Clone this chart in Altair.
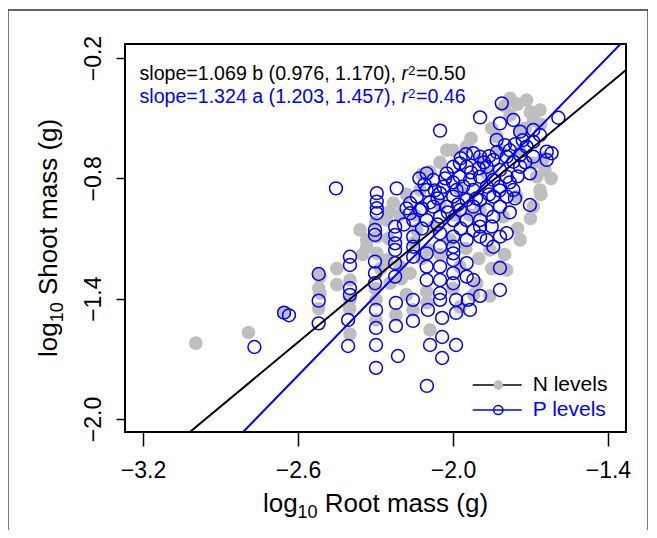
import altair as alt
import pandas as pd

# ---------------- data (log10 root mass, log10 shoot mass) ----------------
N_LEVELS = [
    (-2.996, -1.622), (-2.792, -1.569), (-2.654, -1.470), (-2.520, -1.277), (-2.520, -1.348),
    (-1.779, -0.401), (-1.715, -0.409), (-1.663, -0.459), (-1.689, -0.509), (-2.024, -0.659),
    (-2.089, -0.767), (-1.831, -0.592), (-1.689, -0.941), (-1.676, -0.792), (-1.689, -0.725),
    (-1.753, -0.891), (-1.805, -0.991), (-1.818, -1.240), (-1.792, -1.257), (-1.908, -1.323),
    (-1.973, -1.240), (-2.231, -0.924), (-2.257, -1.008), (-2.334, -1.107), (-2.334, -1.141),
    (-2.295, -1.174), (-2.257, -1.207), (-2.205, -1.240), (-2.166, -1.273), (-2.244, -1.323),
    (-2.515, -1.290), (-2.515, -1.373), (-2.399, -1.307), (-2.295, -1.091), (-2.140, -1.057),
    (-2.076, -1.041), (-1.869, -0.775), (-1.947, -0.642), (-1.740, -0.667), (-1.895, -0.708),
    (-1.818, -0.659), (-1.740, -0.559), (-1.779, -0.484), (-1.973, -0.858), (-2.050, -0.933),
    (-1.934, -0.983), (-2.128, -0.858), (-2.205, -0.983), (-2.011, -1.107), (-2.089, -1.157),
    (-1.857, -1.157), (-1.740, -1.107), (-1.663, -0.858), (-2.399, -1.406), (-2.399, -1.576),
    (-2.298, -1.406), (-2.298, -1.506), (-2.221, -1.481), (-2.155, -1.456), (-2.089, -1.556),
    (-1.973, -1.441), (-1.857, -1.386), (-1.644, -0.758), (-1.895, -0.958), (-1.992, -0.983),
    (-2.147, -0.983), (-2.360, -1.057), (-2.102, -1.366),
    (-1.800, -0.440), (-1.750, -0.430), (-1.700, -0.470), (-1.660, -0.530), (-1.720, -0.550),
    (-1.850, -0.550), (-1.930, -0.600), (-2.000, -0.660), (-2.050, -0.720), (-2.120, -0.780),
    (-2.180, -0.880), (-2.250, -0.970), (-2.300, -1.020), (-2.350, -1.180), (-2.280, -1.250),
    (-2.200, -1.300), (-2.120, -1.200), (-2.050, -1.180), (-1.950, -1.150), (-1.900, -1.200),
    (-1.850, -1.250), (-1.800, -1.180), (-1.750, -1.050), (-1.700, -1.000), (-1.660, -0.880),
    (-1.620, -0.800), (-1.650, -0.700), (-2.450, -1.250), (-2.450, -1.330), (-2.520, -1.450),
    (-2.400, -1.450), (-2.300, -1.350), (-2.180, -1.380), (-2.100, -1.420), (-2.000, -1.350),
    (-1.920, -1.380), (-2.250, -1.100), (-2.150, -1.120),
]

P_LEVELS = [
    (-2.769, -1.641), (-2.654, -1.470), (-2.635, -1.483), (-2.520, -1.277), (-2.520, -1.410),
    (-2.520, -1.523), (-1.811, -0.426), (-1.895, -0.496), (-2.050, -0.562), (-2.453, -0.850),
    (-1.592, -0.498), (-1.766, -0.509), (-1.818, -0.526), (-1.740, -0.567), (-1.831, -0.609),
    (-1.799, -0.634), (-1.689, -0.559), (-1.663, -0.584), (-1.689, -0.617), (-1.715, -0.642),
    (-1.637, -0.667), (-1.618, -0.675), (-1.637, -0.708), (-1.689, -0.692), (-1.740, -0.684),
    (-1.766, -0.717), (-1.792, -0.692), (-1.844, -0.708), (-1.895, -0.692), (-1.921, -0.675),
    (-1.973, -0.725), (-1.999, -0.742), (-1.947, -0.742), (-1.869, -0.742), (-1.818, -0.758),
    (-1.740, -0.742), (-1.702, -0.775), (-1.792, -0.792), (-1.844, -0.808), (-1.895, -0.792),
    (-1.934, -0.808), (-1.973, -0.792), (-2.024, -0.775), (-2.102, -0.775), (-2.076, -0.808),
    (-2.037, -0.842), (-1.986, -0.858), (-1.921, -0.858), (-1.869, -0.842), (-1.818, -0.842),
    (-1.766, -0.858), (-1.792, -0.891), (-1.844, -0.891), (-1.895, -0.908), (-1.947, -0.908),
    (-1.999, -0.891), (-2.050, -0.874), (-2.102, -0.858), (-2.140, -0.891), (-2.166, -0.924),
    (-2.166, -0.974), (-2.128, -0.958), (-2.076, -0.941), (-2.024, -0.941), (-1.973, -0.958),
    (-1.921, -0.941), (-1.869, -0.958), (-1.818, -0.941), (-1.702, -0.933), (-2.154, -1.008),
    (-2.102, -1.008), (-2.050, -0.991), (-1.999, -1.008), (-1.947, -1.008), (-1.895, -1.008),
    (-1.844, -0.991), (-2.295, -0.874), (-2.295, -0.916), (-2.295, -0.949), (-2.295, -0.974),
    (-2.218, -0.850), (-2.302, -1.057), (-2.302, -1.082), (-2.224, -1.041), (-2.224, -1.082),
    (-2.224, -1.124), (-2.224, -1.157), (-2.224, -1.223), (-2.224, -1.290), (-2.302, -1.215),
    (-2.302, -1.273), (-2.302, -1.323), (-2.399, -1.191), (-2.399, -1.232), (-2.399, -1.348),
    (-2.399, -1.381), (-2.154, -1.091), (-2.154, -1.141), (-2.154, -1.191), (-2.102, -1.174),
    (-2.102, -1.240), (-2.102, -1.307), (-2.050, -1.074), (-2.050, -1.141), (-2.050, -1.240),
    (-2.050, -1.307), (-2.050, -1.373), (-1.999, -1.091), (-1.999, -1.141), (-1.999, -1.174),
    (-1.999, -1.207), (-1.999, -1.273), (-1.999, -1.323), (-1.947, -1.107), (-1.947, -1.223),
    (-1.947, -1.290), (-1.921, -1.307), (-1.895, -1.041), (-1.895, -1.091), (-1.869, -1.107),
    (-1.844, -1.141), (-1.792, -1.074), (-1.818, -1.091), (-2.406, -1.506), (-2.406, -1.636),
    (-2.298, -1.456), (-2.298, -1.546), (-2.298, -1.631), (-2.298, -1.745), (-2.221, -1.421),
    (-2.221, -1.536), (-2.213, -1.686), (-2.155, -1.406), (-2.155, -1.511), (-2.097, -1.456),
    (-2.089, -1.631), (-2.101, -1.835), (-2.050, -1.406), (-2.042, -1.496), (-2.042, -1.591),
    (-2.042, -1.696), (-1.988, -1.406), (-1.988, -1.471), (-1.988, -1.631), (-1.942, -1.406),
    (-1.934, -1.456), (-1.895, -1.386), (-1.818, -1.247), (-1.818, -1.357),
    (-2.130, -0.800), (-2.110, -0.830), (-2.070, -0.860), (-2.030, -0.800), (-2.000, -0.820),
    (-1.960, -0.840), (-1.930, -0.770), (-1.900, -0.750), (-1.880, -0.720), (-1.860, -0.690),
    (-1.830, -0.670), (-1.780, -0.660), (-1.760, -0.630), (-1.730, -0.610), (-1.970, -0.700),
    (-1.950, -0.680), (-2.060, -0.900), (-2.090, -0.920), (-2.120, -0.950), (-2.020, -0.970),
    (-1.980, -0.930), (-1.910, -0.900), (-1.860, -0.880), (-1.820, -0.860), (-1.780, -0.820),
    (-1.750, -0.790), (-1.720, -0.720), (-2.180, -0.950), (-2.190, -1.030), (-2.120, -1.050),
    (-2.060, -1.030), (-1.970, -1.050), (-1.920, -1.060), (-1.850, -1.040), (-1.780, -0.970),
    (-1.760, -0.900),
]

X_TICKS = [-3.2, -2.6, -2.0, -1.4]
Y_TICKS = [-2.0, -1.4, -0.8, -0.2]
X_DOMAIN = [-3.27, -1.33]
Y_DOMAIN = [-2.065, -0.13]

FIT_N = {"intercept": 1.162, "slope": 1.069}
FIT_P = {"intercept": 1.659, "slope": 1.324}

ANN_N = ["slope=1.069 b (0.976, 1.170),", "r", "2", "=0.50"]
ANN_P = ["slope=1.324 a (1.203, 1.457),", "r", "2", "=0.46"]
LEGEND = ["N levels", "P levels"]

# ---------------- styling ----------------
W, H = 501, 388
FONT = "Liberation Sans"
BLUE = "#0000ff"
GREY = "#bebebe"

df_n = pd.DataFrame(N_LEVELS, columns=["x", "y"])
df_p = pd.DataFrame(P_LEVELS, columns=["x", "y"])


def fit_df(fit):
    return pd.DataFrame({
        "x": X_DOMAIN,
        "y": [fit["intercept"] + fit["slope"] * v for v in X_DOMAIN],
    })


X = alt.X("x:Q", scale=alt.Scale(domain=X_DOMAIN, nice=False, zero=False),
          axis=alt.Axis(values=X_TICKS, format=".1f", title=None, grid=False, domain=False,
                        tickSize=14, tickWidth=1.5, tickColor="black",
                        labelFont=FONT, labelFontSize=23, labelColor="black",
                        labelPadding=13, labelBaseline="top"))
Y = alt.Y("y:Q", scale=alt.Scale(domain=Y_DOMAIN, nice=False, zero=False),
          axis=alt.Axis(values=Y_TICKS, format=".1f", title=None, grid=False, domain=False,
                        tickSize=9, tickWidth=1.5, tickColor="black",
                        labelFont=FONT, labelFontSize=23, labelColor="black",
                        labelAngle=270, labelAlign="center", labelBaseline="alphabetic",
                        labelPadding=16))

one = pd.DataFrame({"k": [0]})

n_layer = alt.Chart(df_n).mark_circle(size=185, color=GREY, opacity=1).encode(x=X, y=Y)
p_layer = alt.Chart(df_p).mark_point(shape="circle", filled=False, size=165, color=BLUE,
                                     strokeWidth=1.5, opacity=1).encode(x=X, y=Y)
line_n = alt.Chart(fit_df(FIT_N)).mark_line(color="black", strokeWidth=2, clip=True).encode(x=X, y=Y)
line_p = alt.Chart(fit_df(FIT_P)).mark_line(color=BLUE, strokeWidth=2, clip=True).encode(x=X, y=Y)


def txt(text, x, y, size, color="black", align="left", baseline="alphabetic", angle=0, style="normal"):
    return alt.Chart(one).mark_text(text=text, font=FONT, fontSize=size, color=color, align=align,
                                    baseline=baseline, angle=angle, fontStyle=style).encode(
        x=alt.value(x), y=alt.value(y))


layers = [n_layer, p_layer, line_n, line_p]

# annotations
for parts, base, col in [(ANN_N, 36, "black"), (ANN_P, 59, BLUE)]:
    layers.append(txt(parts[0], 14.5, base, 19.6, col))
    layers.append(txt(parts[1], 276.5, base, 19.6, col, style="italic"))
    layers.append(txt(parts[2], 283, base - 5, 13.5, col))
    layers.append(txt(parts[3], 291, base, 19.6, col))

# legend
leg_y = [341, 366]
layers.append(alt.Chart(one).mark_rule(color="black", strokeWidth=1.5).encode(
    x=alt.value(347.7), x2=alt.value(396.7), y=alt.value(leg_y[0])))
layers.append(alt.Chart(one).mark_rule(color=BLUE, strokeWidth=1.5).encode(
    x=alt.value(347.7), x2=alt.value(396.7), y=alt.value(leg_y[1])))
layers.append(alt.Chart(one).mark_circle(size=90, color=GREY, opacity=1).encode(
    x=alt.value(373.3), y=alt.value(leg_y[0])))
layers.append(alt.Chart(one).mark_point(shape="circle", filled=False, size=85, color=BLUE,
                                        strokeWidth=1.5, opacity=1).encode(
    x=alt.value(373.3), y=alt.value(leg_y[1])))
layers.append(txt(LEGEND[0], 407.7, leg_y[0], 21, "black", baseline="middle"))
layers.append(txt(LEGEND[1], 407.7, leg_y[1], 21, BLUE, baseline="middle"))

# x axis title: log10 Root mass (g)
layers.append(txt("log", 137.9, 467.7, 26))
layers.append(txt("10", 172.6, 474, 18))
layers.append(txt("Root mass (g)", 199.8, 467.7, 26))

# y axis title: log10 Shoot mass (g)
layers.append(txt("log", -68, 313, 26, angle=270))
layers.append(txt("10", -62, 278.3, 18, angle=270))
layers.append(txt("Shoot mass (g)", -68, 251.1, 26, angle=270))

# outer figure border
layers.append(alt.Chart(one).mark_rect(fill=None, stroke="#333333", strokeWidth=1.3).encode(
    x=alt.value(-117), x2=alt.value(523), y=alt.value(-34), y2=alt.value(540)))

chart = alt.layer(*layers).properties(
    width=W, height=H,
    autosize=alt.AutoSizeParams(type="none"),
    padding={"left": 117, "top": 36, "right": 22, "bottom": 98},
    background="white",
).configure_view(stroke="black", strokeWidth=2)

chart.save("out.html", embed_options={"renderer": "svg", "actions": False})
